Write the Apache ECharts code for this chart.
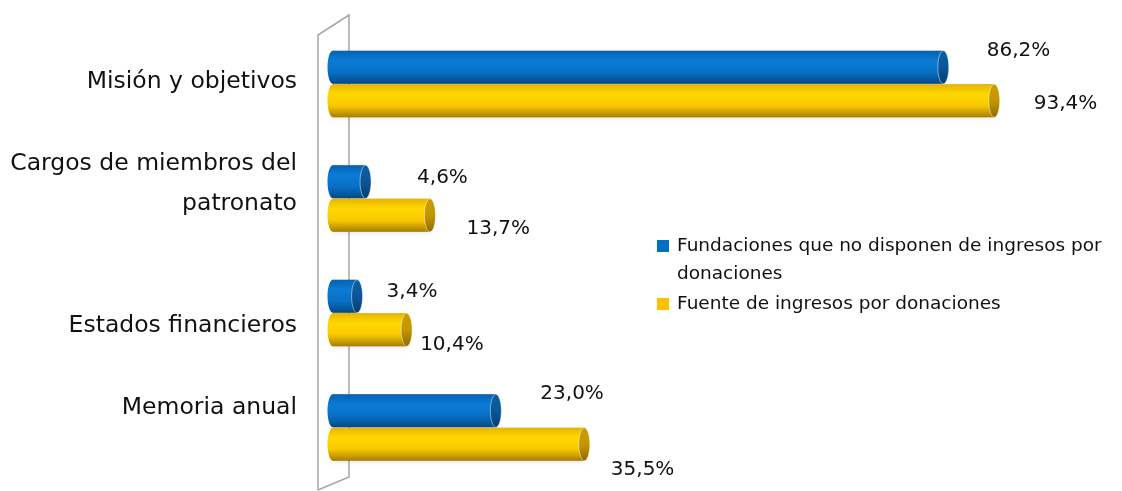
<!DOCTYPE html>
<html>
<head>
<meta charset="utf-8">
<script src="https://cdn.jsdelivr.net/npm/echarts@6/dist/echarts.min.js"></script>
<style>
html,body{margin:0;padding:0;background:#fff;}
#chart{width:1122px;height:491px;}
</style>
</head>
<body>
<div id="chart"></div>
<script>
// ---- data ----
const categories = ['Misión y objetivos', 'Cargos de miembros del\npatronato', 'Estados financieros', 'Memoria anual'];
const seriesNames = ['Fundaciones que no disponen de ingresos por\ndonaciones', 'Fuente de ingresos por donaciones'];
const noDonaciones = [86.2, 4.6, 3.4, 23.0];
const conDonaciones = [93.4, 13.7, 10.4, 35.5];

// ---- layout / style ----
const FONT = '"DejaVu Sans", "Open Sans", sans-serif';
const GRID = {left: 333, right: 81, top: 27, bottom: 6};
const catLabelShift = [-2, -15, 13, -20];
const labelOffsetBlue = [[38, -16], [46, -4], [24, -4], [39, -17]];
const labelOffsetYellow = [[34, 3], [31, 14], [8, 15], [21, 26]];

const blueStops = [
  {offset: 0, color: '#0561b0'}, {offset: 0.3, color: '#0b7bd6'},
  {offset: 0.65, color: '#0870c6'}, {offset: 1, color: '#034a86'}
];
const yellowStops = [
  {offset: 0, color: '#e8b400'}, {offset: 0.3, color: '#ffd800'},
  {offset: 0.65, color: '#f9c800'}, {offset: 1, color: '#a87e00'}
];
const blueCap = [
  {offset: 0, color: '#0a5fa6'}, {offset: 0.5, color: '#0b5699'}, {offset: 1, color: '#033e70'}
];
const yellowCap = [
  {offset: 0, color: '#c99e00'}, {offset: 0.5, color: '#c49600'}, {offset: 1, color: '#8f6b00'}
];

function fmt(v) { return v.toFixed(1).replace('.', ',') + '%'; }

function makeRender(upper, stops, capStops, offsets) {
  return function (params, api) {
    const v = api.value(0);
    const idx = api.value(1);
    const p0 = api.coord([0, idx]);
    const p1 = api.coord([v, idx]);
    const band = api.size([0, 1])[1];
    const h = band * 0.288;
    const cy = upper ? p0[1] - h / 2 - 0.5 : p0[1] + h / 2;
    const top = cy - h / 2;
    const rx = 5.5;
    const grad = () => new echarts.graphic.LinearGradient(0, 0, 0, 1, stops);
    const off = offsets[params.dataIndex];
    return {
      type: 'group',
      children: [
        {type: 'rect', shape: {x: p0[0], y: top, width: p1[0] - p0[0], height: h},
          style: {fill: '#000', shadowColor: 'rgba(0,0,0,0.35)', shadowBlur: 5, shadowOffsetY: 2, opacity: 0.25}},
        {type: 'ellipse', shape: {cx: p0[0], cy: cy, rx: rx, ry: h / 2}, style: {fill: grad()}},
        {type: 'rect', shape: {x: p0[0], y: top, width: p1[0] - p0[0], height: h}, style: {fill: grad()}},
        {type: 'ellipse', shape: {cx: p1[0], cy: cy, rx: rx, ry: h / 2},
          style: {fill: new echarts.graphic.LinearGradient(0, 0, 0, 1, capStops), stroke: 'rgba(255,255,255,0.25)', lineWidth: 1}},
        {type: 'text', x: p1[0] + rx + off[0], y: cy + off[1],
          style: {text: fmt(v), fill: '#111', font: '20px ' + FONT, align: 'left', verticalAlign: 'middle'}}
      ]
    };
  };
}

// rich styles: a text style plus spacer lines used to nudge each category label
const rich = {t: {fontSize: 23.5, lineHeight: 40, fontFamily: FONT, color: '#111', align: 'right'}};
catLabelShift.forEach(d => {
  if (d !== 0) rich['s' + Math.abs(d)] = {fontSize: 1, lineHeight: 2 * Math.abs(d)};
});
function catFormatter(value, index) {
  const d = catLabelShift[index] || 0;
  const body = value.split('\n').map(l => '{t|' + l + '}').join('\n');
  if (d === 0) return body;
  const sp = '{s' + Math.abs(d) + '| }';
  return d < 0 ? body + '\n' + sp : sp + '\n' + body;
}

const chart = echarts.init(document.getElementById('chart'), null, {renderer: 'canvas'});

const option = {
  animation: false,
  backgroundColor: '#fff',
  grid: {left: GRID.left, right: GRID.right, top: GRID.top, bottom: GRID.bottom, containLabel: false},
  xAxis: {type: 'value', min: 0, max: 100, show: false},
  yAxis: {
    type: 'category',
    inverse: true,
    data: categories,
    axisLine: {show: false},
    axisTick: {show: false},
    splitLine: {show: false},
    axisLabel: {
      margin: 36,
      align: 'right',
      formatter: catFormatter,
      rich: rich
    }
  },
  legend: {
    orient: 'vertical',
    left: 657,
    top: 204,
    padding: 0,
    itemGap: 2,
    itemWidth: 12,
    itemHeight: 12,
    icon: 'rect',
    selectedMode: false,
    formatter: name => name.indexOf('\n') >= 0 ? '\n' + name : name,
    textStyle: {fontSize: 18.5, fontFamily: FONT, color: '#111', lineHeight: 28, padding: [0, 0, 0, 3]},
    data: seriesNames
  },
  series: [
    {
      name: seriesNames[0], type: 'custom', itemStyle: {color: '#0070c0'},
      encode: {x: 0, y: 1},
      renderItem: makeRender(true, blueStops, blueCap, labelOffsetBlue),
      data: noDonaciones.map((v, i) => [v, i])
    },
    {
      name: seriesNames[1], type: 'custom', itemStyle: {color: '#ffc000'},
      encode: {x: 0, y: 1},
      renderItem: makeRender(false, yellowStops, yellowCap, labelOffsetYellow),
      data: conDonaciones.map((v, i) => [v, i])
    }
  ]
};
chart.setOption(option);

// 3D wall outline around the category axis
const x0 = chart.convertToPixel({xAxisIndex: 0}, 0);
const gTop = GRID.top, gBottom = 491 - GRID.bottom;
const wallStyle = {stroke: '#a6a6a6', lineWidth: 1.5, fill: null};
chart.setOption({
  graphic: [{
    type: 'polyline', z: -1, silent: true,
    shape: {points: [
      [x0 - 15, gBottom + 5], [x0 - 15, gTop + 8], [x0 + 16, gTop - 12],
      [x0 + 16, gBottom - 8], [x0 - 15, gBottom + 5]
    ]},
    style: wallStyle
  }]
});
</script>
</body>
</html>
